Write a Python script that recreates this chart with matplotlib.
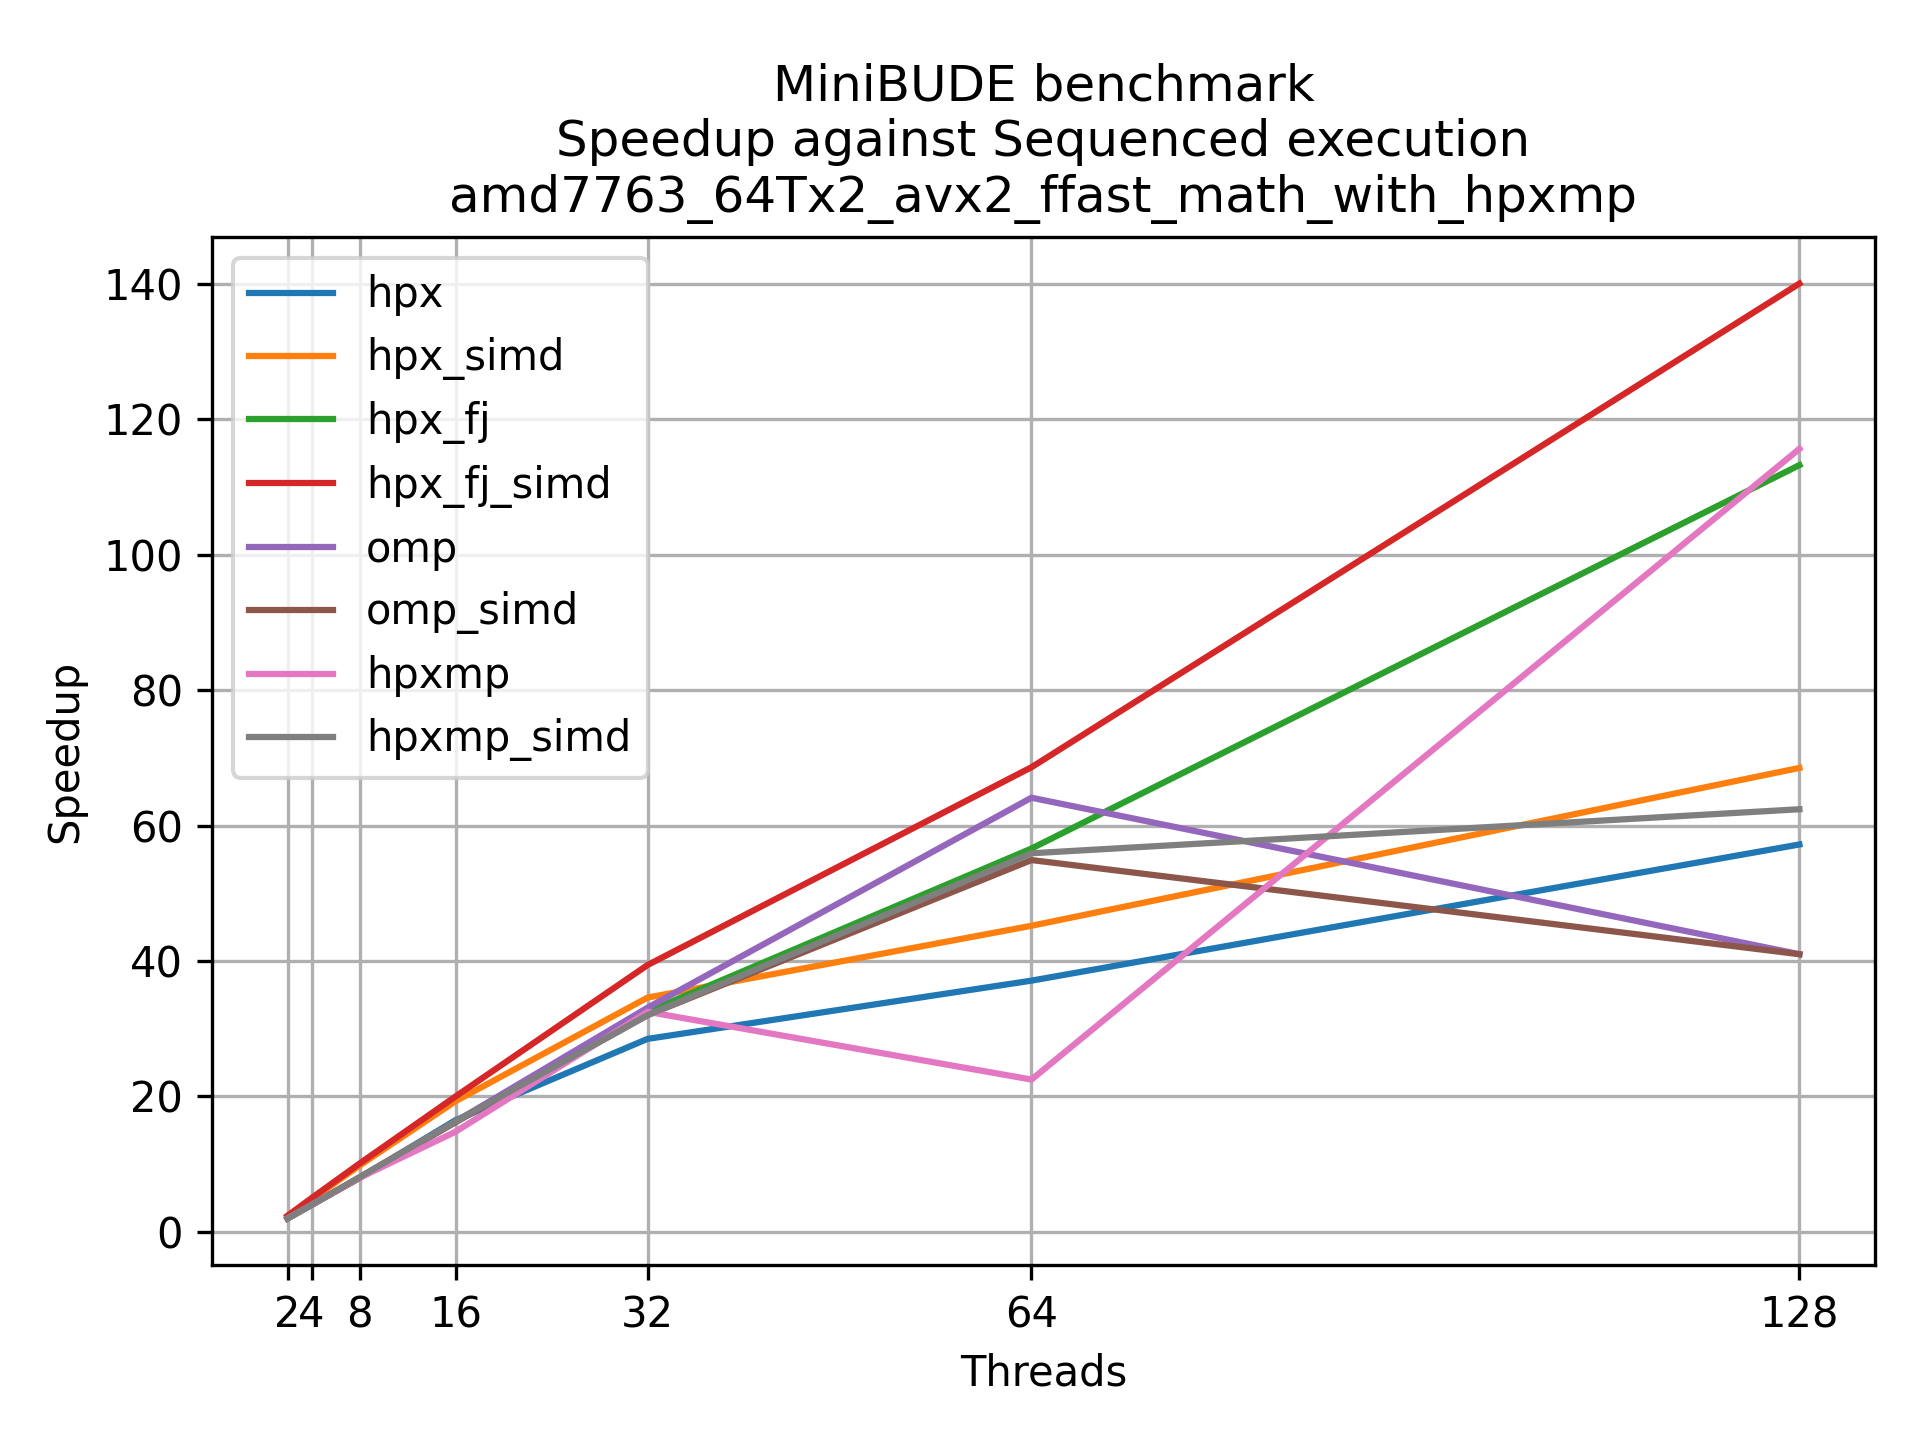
import numpy as np
import matplotlib
matplotlib.use('Agg')
import matplotlib.pyplot as plt


threads = [2, 4, 8, 16, 32, 64, 128]

hpx        = [2.0, 4.0, 8.0, 16.5, 28.5, 37.1, 57.2]
hpx_simd   = [2.3, 4.8, 9.8, 19.3, 34.6, 45.2, 68.5]
hpx_fj     = [2.0, 4.0, 8.0, 16.3, 32.5, 56.6, 113.2]
hpx_fj_simd= [2.4, 5.0, 10.1, 20.0, 39.4, 68.6, 140.0]
omp        = [2.0, 4.0, 8.0, 16.3, 33.1, 64.1, 41.0]
omp_simd   = [2.0, 4.0, 8.0, 16.2, 32.0, 54.9, 41.0]
hpxmp      = [2.0, 4.0, 8.0, 14.8, 32.5, 22.5, 115.6]
hpxmp_simd = [2.0, 4.0, 8.1, 16.3, 32.0, 55.9, 62.4]

series = {
	'hpx': hpx,
	'hpx_simd': hpx_simd,
	'hpx_fj': hpx_fj,
	'hpx_fj_simd': hpx_fj_simd,
	'omp': omp,
	'omp_simd': omp_simd,
	'hpxmp': hpxmp,
	'hpxmp_simd': hpxmp_simd,
}


plt.figure(figsize=(6.4, 4.8))

for name, vals in series.items():
	plt.plot(threads, vals, label=name)

plt.xticks(threads, [str(t) for t in threads])
plt.xlabel('Threads')
plt.ylabel('Speedup')
plt.title('MiniBUDE benchmark\nSpeedup against Sequenced execution\namd7763_64Tx2_avx2_ffast_math_with_hpxmp')
plt.grid(True)
plt.legend(loc='upper left')

plt.tight_layout()
plt.savefig('out.png', dpi=300)
